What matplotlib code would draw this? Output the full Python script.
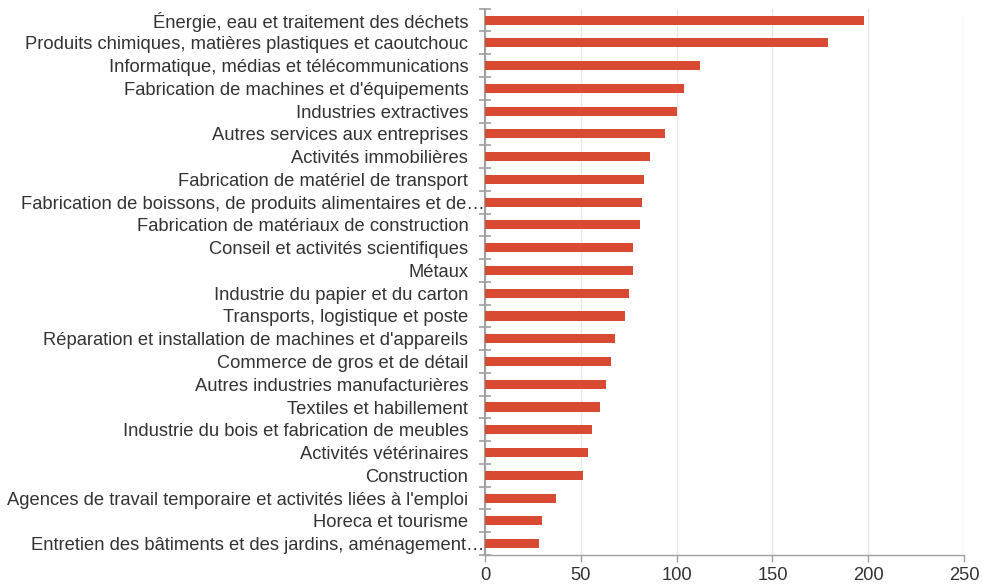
import matplotlib
matplotlib.use("Agg")
import matplotlib.pyplot as plt
import matplotlib.transforms as mtransforms
import numpy as np

categories = [
    "Énergie, eau et traitement des déchets",
    "Produits chimiques, matières plastiques et caoutchouc",
    "Informatique, médias et télécommunications",
    "Fabrication de machines et d'équipements",
    "Industries extractives",
    "Autres services aux entreprises",
    "Activités immobilières",
    "Fabrication de matériel de transport",
    "Fabrication de boissons, de produits alimentaires et de…",
    "Fabrication de matériaux de construction",
    "Conseil et activités scientifiques",
    "Métaux",
    "Industrie du papier et du carton",
    "Transports, logistique et poste",
    "Réparation et installation de machines et d'appareils",
    "Commerce de gros et de détail",
    "Autres industries manufacturières",
    "Textiles et habillement",
    "Industrie du bois et fabrication de meubles",
    "Activités vétérinaires",
    "Construction",
    "Agences de travail temporaire et activités liées à l'emploi",
    "Horeca et tourisme",
    "Entretien des bâtiments et des jardins, aménagement…",
]
values = [198, 179, 112, 104, 100, 94, 86, 83, 82, 81, 77, 77, 75, 73, 68, 66, 63, 60, 56, 54, 51, 37, 30, 28]
x_ticks = [0, 50, 100, 150, 200, 250]

plt.rcParams['font.family'] = ['Liberation Sans', 'DejaVu Sans']

fig = plt.figure(figsize=(9.82, 5.84), dpi=100)
ax = fig.add_axes([485/982, 1-555/584, 479/982, (555-8.7)/584])

n = len(categories)
y = np.arange(n)
ax.barh(y, values, height=0.4, color="#d84b32", zorder=3)
ax.set_ylim(n - 0.5, -0.5)
ax.set_xlim(0, 250)

ax.set_yticks(y)
ax.set_yticklabels(categories, fontsize=13.2, color="#333333")
ax.tick_params(axis='y', which='major', length=0, pad=12)
ax.set_yticks(np.arange(-0.5, n, 1), minor=True)
ax.tick_params(axis='y', which='minor', length=9, width=1.2, direction='inout', color="#a0a0a0")

# truncated labels sit closer to the axis
shift = mtransforms.ScaledTranslation(16/100, 0, fig.dpi_scale_trans)
for lab in ax.get_yticklabels():
    if lab.get_text().endswith("…"):
        lab.set_transform(lab.get_transform() + shift)

ax.set_xticks(x_ticks)
ax.set_xticklabels([str(t) for t in x_ticks], fontsize=13.2, color="#333333")
ax.tick_params(axis='x', which='major', length=5, width=1, color="#a0a0a0", pad=4)
ax.xaxis.grid(True, color="#e8e8e8", linewidth=1, zorder=0)

for s in ['top', 'right']:
    ax.spines[s].set_visible(False)
ax.spines['left'].set_color("#a0a0a0")
ax.spines['left'].set_linewidth(1.5)
ax.spines['bottom'].set_color("#a0a0a0")
ax.spines['bottom'].set_linewidth(1)

fig.savefig("out.png", dpi=100)
